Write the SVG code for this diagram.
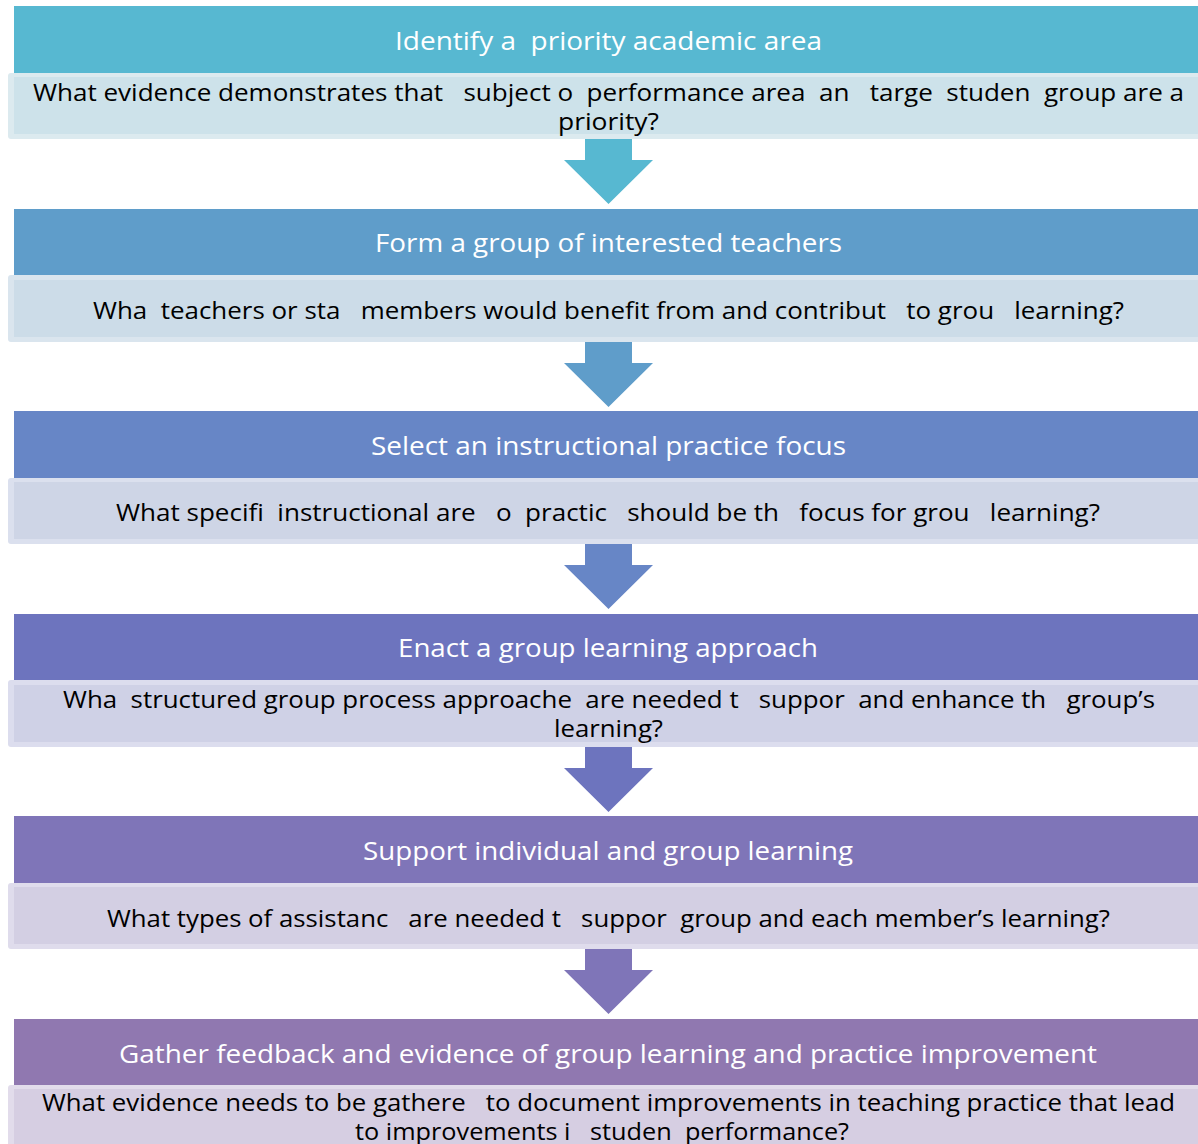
<svg xmlns="http://www.w3.org/2000/svg" width="1198" height="1144" viewBox="0 0 1198 1144">
<style>
.h{font-family:"Open Sans","Liberation Sans",sans-serif;font-size:25px;fill:#ffffff;white-space:pre}
.q{font-family:"Open Sans","Liberation Sans",sans-serif;font-size:24px;fill:#000000;white-space:pre}
</style>
<rect width="1198" height="1144" fill="#ffffff"/>
<g id="connectors">
<polygon points="585,139 632,139 632,160 653,160 608.5,204 564,160 585,160" fill="#57B8D1"/>
<polygon points="585,342 632,342 632,363 653,363 608.5,407 564,363 585,363" fill="#5F9DCA"/>
<polygon points="585,544 632,544 632,565 653,565 608.5,609 564,565 585,565" fill="#6786C6"/>
<polygon points="585,747 632,747 632,768 653,768 608.5,812 564,768 585,768" fill="#6D74BE"/>
<polygon points="585,949 632,949 632,970 653,970 608.5,1014 564,970 585,970" fill="#7F75B8"/>
</g>
<g id="stage1" transform="translate(0,6)">
<rect x="8" y="67" width="1196" height="66" rx="3" fill="#DCEAEF"/>
<rect x="14" y="71" width="1190" height="57" fill="#CDE2EA"/>
<rect x="14" y="0" width="1190" height="67" fill="#57B8D1"/>
<text class="h" x="395" y="44" textLength="427" lengthAdjust="spacingAndGlyphs">Identify a  priority academic area</text>
<text class="q" x="33" y="95" textLength="1151" lengthAdjust="spacingAndGlyphs">What evidence demonstrates that   subject o  performance area  an   targe  studen  group are a</text>
<text class="q" x="558" y="124" textLength="101" lengthAdjust="spacingAndGlyphs">priority?</text>
</g>
<g id="stage2" transform="translate(0,209)">
<rect x="8" y="66" width="1196" height="67" rx="3" fill="#DAE5EE"/>
<rect x="14" y="71" width="1190" height="57" fill="#CCDCE8"/>
<rect x="14" y="0" width="1190" height="66" fill="#5F9DCA"/>
<text class="h" x="375" y="43" textLength="467" lengthAdjust="spacingAndGlyphs">Form a group of interested teachers</text>
<text class="q" x="93" y="110" textLength="1031" lengthAdjust="spacingAndGlyphs">Wha  teachers or sta   members would benefit from and contribut   to grou   learning?</text>
</g>
<g id="stage3" transform="translate(0,411)">
<rect x="8" y="67" width="1196" height="66" rx="3" fill="#DBE0EE"/>
<rect x="14" y="71" width="1190" height="57" fill="#CED5E6"/>
<rect x="14" y="0" width="1190" height="67" fill="#6786C6"/>
<text class="h" x="371" y="44" textLength="475" lengthAdjust="spacingAndGlyphs">Select an instructional practice focus</text>
<text class="q" x="116" y="110" textLength="984" lengthAdjust="spacingAndGlyphs">What specifi  instructional are   o  practic   should be th   focus for grou   learning?</text>
</g>
<g id="stage4" transform="translate(0,614)">
<rect x="8" y="66" width="1196" height="67" rx="3" fill="#DCDDEE"/>
<rect x="14" y="71" width="1190" height="57" fill="#CFD1E6"/>
<rect x="14" y="0" width="1190" height="66" fill="#6D74BE"/>
<text class="h" x="398" y="43" textLength="420" lengthAdjust="spacingAndGlyphs">Enact a group learning approach</text>
<text class="q" x="63" y="94" textLength="1092" lengthAdjust="spacingAndGlyphs">Wha  structured group process approache  are needed t   suppor  and enhance th   group’s</text>
<text class="q" x="554" y="123" textLength="109" lengthAdjust="spacingAndGlyphs">learning?</text>
</g>
<g id="stage5" transform="translate(0,816)">
<rect x="8" y="67" width="1196" height="66" rx="3" fill="#DFDCEC"/>
<rect x="14" y="71" width="1190" height="57" fill="#D3CFE3"/>
<rect x="14" y="0" width="1190" height="67" fill="#7F75B8"/>
<text class="h" x="363" y="44" textLength="490" lengthAdjust="spacingAndGlyphs">Support individual and group learning</text>
<text class="q" x="107" y="111" textLength="1003" lengthAdjust="spacingAndGlyphs">What types of assistanc   are needed t   suppor  group and each member’s learning?</text>
</g>
<g id="stage6" transform="translate(0,1019)">
<rect x="8" y="66" width="1196" height="67" rx="3" fill="#E2DCEB"/>
<rect x="14" y="70" width="1190" height="60" fill="#D6CEE2"/>
<rect x="14" y="0" width="1190" height="66" fill="#9078B0"/>
<text class="h" x="119" y="44" textLength="978" lengthAdjust="spacingAndGlyphs">Gather feedback and evidence of group learning and practice improvement</text>
<text class="q" x="42" y="92" textLength="1133" lengthAdjust="spacingAndGlyphs">What evidence needs to be gathere   to document improvements in teaching practice that lead</text>
<text class="q" x="355" y="121" textLength="494" lengthAdjust="spacingAndGlyphs">to improvements i   studen  performance?</text>
</g>
</svg>
